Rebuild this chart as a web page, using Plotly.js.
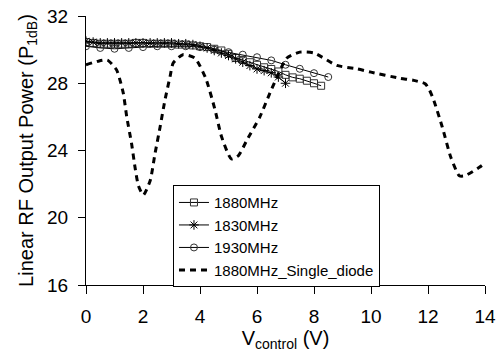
<!DOCTYPE html>
<html>
<head>
<meta charset="utf-8">
<script src="https://cdn.plot.ly/plotly-3.0.1.min.js"></script>
<style>html,body{margin:0;padding:0;background:#fff;}#chart{width:501px;height:353px;}</style>
</head>
<body>
<div id="chart"></div>
<script>
// 1880MHz (squares)
const x1880 = [0,0.25,0.5,0.75,1,1.25,1.5,1.75,2,2.25,2.5,2.75,3,3.25,3.5,3.75,4,4.25,4.5,4.75,5,5.25,5.5,5.75,6,6.25,6.5,6.75,7,7.25,7.5,7.75,8,8.25];
const y1880 = [30.45,30.4,30.35,30.35,30.35,30.35,30.35,30.4,30.4,30.35,30.35,30.35,30.35,30.3,30.3,30.25,30.2,30.15,30.05,29.95,29.75,29.5,29.38,29.25,29.1,28.95,28.85,28.7,28.5,28.35,28.27,28.15,28.0,27.85];
// 1830MHz (asterisks)
const x1830 = [0,0.25,0.5,0.75,1,1.25,1.5,1.75,2,2.25,2.5,2.75,3,3.25,3.5,3.75,4,4.25,4.5,4.75,5,5.25,5.5,5.75,6,6.25,6.5,6.75,7];
const y1830 = [30.5,30.45,30.4,30.4,30.4,30.4,30.4,30.4,30.4,30.4,30.4,30.4,30.4,30.35,30.35,30.3,30.2,30.1,29.95,29.8,29.65,29.45,29.25,29.05,28.85,28.75,28.62,28.37,28.0];
// 1930MHz (circles)
const x1930 = [0,0.5,1,1.5,2,2.5,3,3.5,4,4.5,5,5.5,6,6.5,7,7.5,8,8.5];
const y1930 = [30.2,30.1,30.05,30.1,30.15,30.2,30.2,30.2,30.15,30.0,29.85,29.7,29.55,29.36,29.1,28.86,28.6,28.37];
// 1880MHz_Single_diode (dashed)
const xSD = [0,0.4,0.75,1.07,1.19,1.31,1.43,1.6,1.72,1.84,2.01,2.25,2.42,2.6,2.77,2.95,3.06,3.4,3.82,4.2,4.53,4.76,5.1,5.35,5.64,6.1,6.5,7.05,7.5,8.0,8.8,9.5,10.0,11.0,11.5,11.9,12.05,12.2,12.5,12.8,13.1,13.3,13.8,14.0];
const ySD = [29.1,29.3,29.38,28.8,28.2,27.4,26.0,24.4,23.0,21.9,21.35,22.2,23.8,25.4,27.0,28.4,29.2,29.7,29.5,28.3,26.4,24.8,23.5,23.7,24.6,26.0,27.6,29.5,29.85,29.8,29.06,28.86,28.66,28.3,28.17,27.97,27.6,27.0,25.4,23.6,22.5,22.5,23.0,23.25];

const fam = 'Arial, "Liberation Sans", sans-serif';
const legendFont = {family:fam, size:15, color:'#000'};
const traces = [
  {x:x1880, y:y1880, name:'1880MHz', mode:'lines+markers', type:'scatter',
   line:{color:'#000', width:1},
   marker:{symbol:'square-open', size:7, color:'#333', line:{width:1, color:'#333'}}},
  {x:x1830, y:y1830, name:'1830MHz', mode:'lines+markers', type:'scatter',
   line:{color:'#000', width:1},
   marker:{symbol:'asterisk-open', size:8, color:'#000', line:{width:1, color:'#000'}}},
  {x:x1930, y:y1930, name:'1930MHz', mode:'lines+markers', type:'scatter',
   line:{color:'#000', width:1},
   marker:{symbol:'circle-open', size:7, color:'#333', line:{width:1, color:'#333'}}},
  {x:xSD, y:ySD, name:'1880MHz_Single_diode', mode:'lines', type:'scatter',
   line:{color:'#000', width:3, dash:'6px,5px', shape:'spline', smoothing:0.6}}
];

const font = {family:fam, size:19, color:'#000'};
const titleFont = {family:fam, size:20, color:'#000'};
const layout = {
  width:501, height:353,
  margin:{l:86, r:16, t:16, b:68, pad:0},
  paper_bgcolor:'#fff', plot_bgcolor:'#fff',
  font:font,
  showlegend:true,
  legend:{x:0.218, y:0.371, xanchor:'left', yanchor:'top', bgcolor:'#fff',
          bordercolor:'#000', borderwidth:1, font:legendFont, tracegroupgap:0},
  xaxis:{range:[0,14], dtick:2, tick0:0, showgrid:false, zeroline:false,
         showline:true, linecolor:'#000', linewidth:1, mirror:false,
         ticks:'outside', ticklen:8, tickcolor:'#000', tickwidth:1,
         ticklabelstandoff:6, tickfont:font,
         title:{text:'V<sub>control</sub> (V)', font:titleFont, standoff:3}},
  yaxis:{range:[16,32], dtick:4, tick0:16, showgrid:false, zeroline:false,
         showline:true, linecolor:'#000', linewidth:1, mirror:false,
         ticks:'outside', ticklen:7, tickcolor:'#000', tickwidth:1,
         ticklabelstandoff:6, tickfont:font,
         title:{text:'Linear RF Output Power (P<sub>1dB</sub>)', font:titleFont, standoff:8}}
};
Plotly.newPlot('chart', traces, layout, {displayModeBar:false, staticPlot:true});
</script>
</body>
</html>
